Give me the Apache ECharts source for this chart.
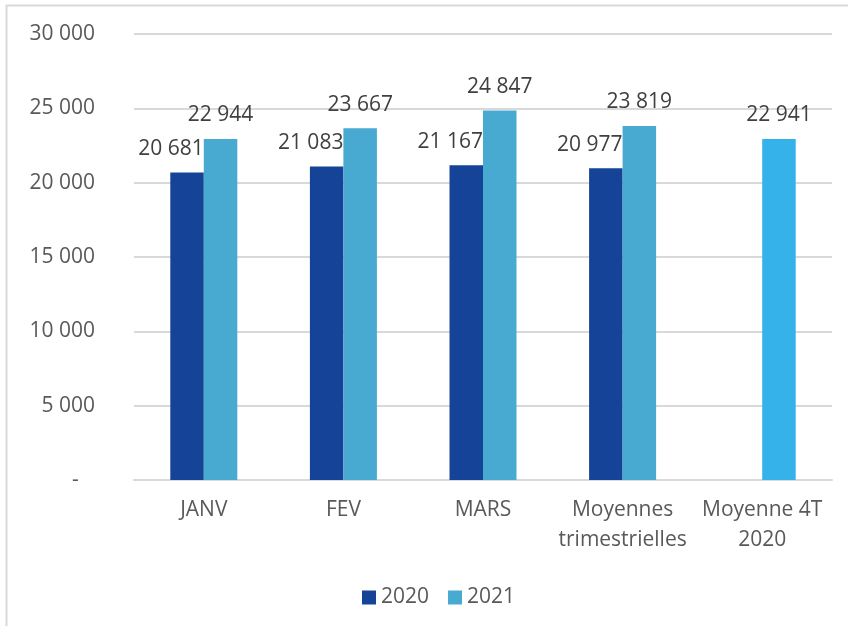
<!DOCTYPE html>
<html>
<head>
<meta charset="utf-8">
<script src="https://cdn.jsdelivr.net/npm/echarts@6/dist/echarts.min.js"></script>
<style>
  html, body { margin: 0; padding: 0; background: #fff; }
  #chart { width: 848px; height: 626px; }
</style>
</head>
<body>
<div id="chart"></div>
<script>
const categories = ['JANV', 'FEV', 'MARS', 'Moyennes\ntrimestrielles', 'Moyenne 4T\n2020']
const values2020 = [20681, 21083, 21167, 20977, null]
const values2021 = [22944, 23667, 24847, 23819, 22941]
const yTicks = [0, 5000, 10000, 15000, 20000, 25000, 30000]

// format "20 681", zero shown as a dash
const fmt = (v) => {
  if (v === 0) return '-   '
  return String(v).replace(/\B(?=(\d{3})+(?!\d))/g, ' ')
}

const font = 'Open Sans'
const fs = 21

const chart = echarts.init(document.getElementById('chart'))
chart.setOption({
  animation: false,
  textStyle: { fontFamily: font },
  graphic: [
    {
      type: 'rect',
      shape: { x: 6.5, y: 5.5, width: 900, height: 700 },
      style: { fill: 'none', stroke: '#d9d9d9', lineWidth: 2 },
      silent: true
    }
  ],
  legend: {
    left: 357,
    top: 582,
    icon: 'rect',
    itemWidth: 14,
    itemHeight: 14,
    itemGap: 19,
    textStyle: { color: '#595959', fontSize: fs, fontFamily: font },
    data: ['2020', '2021']
  },
  grid: {
    left: 134,
    right: 16,
    top: 34,
    bottom: 146
  },
  xAxis: {
    type: 'category',
    data: categories,
    axisTick: { show: false },
    axisLine: { lineStyle: { color: '#d9d9d9', width: 2 } },
    axisLabel: {
      color: '#595959',
      fontSize: fs,
      lineHeight: 30,
      margin: 15,
      interval: 0,
      fontFamily: font
    }
  },
  yAxis: {
    type: 'value',
    min: yTicks[0],
    max: yTicks[yTicks.length - 1],
    interval: 5000,
    axisLine: { show: false },
    axisTick: { show: false },
    splitLine: { lineStyle: { color: '#d9d9d9', width: 2 } },
    axisLabel: {
      color: '#595959',
      fontSize: fs,
      margin: 39,
      fontFamily: font,
      formatter: fmt
    }
  },
  series: [
    {
      name: '2020',
      type: 'bar',
      data: values2020,
      barWidth: '24%',
      barGap: '0%',
      itemStyle: { color: '#144397' },
      label: {
        show: true,
        position: 'top',
        distance: 13,
        offset: [-16, 0],
        color: '#404040',
        fontSize: fs,
        fontFamily: font,
        formatter: (p) => fmt(p.value)
      }
    },
    {
      name: '2021',
      type: 'bar',
      data: values2021.map((v, i) => i === 4 ? { value: v, itemStyle: { color: '#36B2EA' } } : v),
      barWidth: '24%',
      barGap: '0%',
      itemStyle: { color: '#48A9D1' },
      label: {
        show: true,
        position: 'top',
        distance: 13,
        color: '#404040',
        fontSize: fs,
        fontFamily: font,
        formatter: (p) => fmt(p.value)
      }
    }
  ]
})
</script>
</body>
</html>
